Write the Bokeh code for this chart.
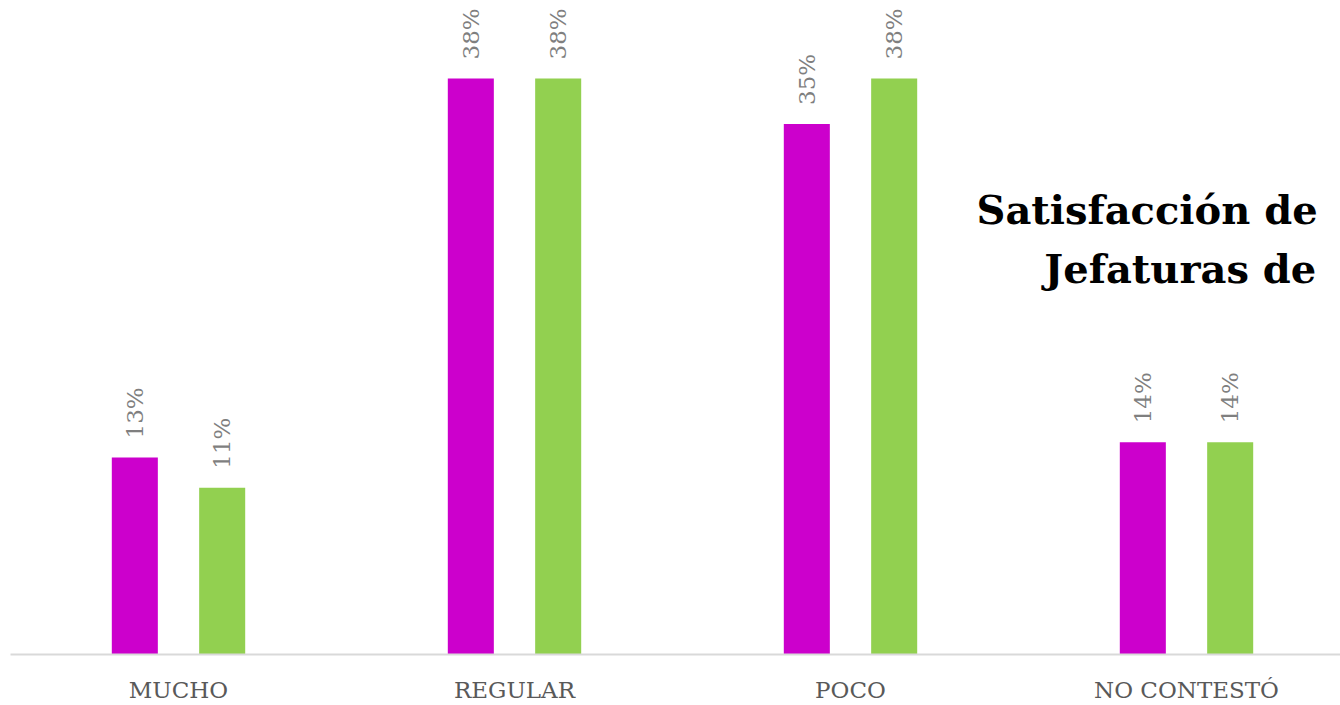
import math
from bokeh.plotting import figure
from bokeh.models import ColumnDataSource, FixedTicker, Range1d, Label
from bokeh.core.properties import value
from bokeh.embed import file_html
from bokeh.resources import INLINE

# ---- data ----
categories = ["MUCHO", "REGULAR", "POCO", "NO CONTESTÓ"]
serie_magenta = [13, 38, 35, 14]
serie_verde = [11, 38, 38, 14]
title_lines = ["Satisfacción de", "Jefaturas de"]

# ---- style ----
MAGENTA = "#CC00CC"
GREEN = "#92D050"
LABEL_GRAY = "#7F7F7F"
AXIS_GRAY = "#595959"
FONT = "DejaVu Serif"

centers = [i + 0.5 for i in range(len(categories))]
offset = 0.13
bar_w = 0.137

src_m = ColumnDataSource(dict(
    x=[c - offset for c in centers], top=serie_magenta,
    label=[f"{v}%" for v in serie_magenta]))
src_g = ColumnDataSource(dict(
    x=[c + offset for c in centers], top=serie_verde,
    label=[f"{v}%" for v in serie_verde]))

p = figure(width=1340, height=705, output_backend="svg", toolbar_location=None,
           x_range=Range1d(0, 1330 / 336), y_range=Range1d(0, 654 / 15.16),
           min_border_left=10, min_border_right=0, min_border_top=0,
           min_border_bottom=51)

p.vbar(x="x", top="top", width=bar_w, bottom=0, source=src_m,
       fill_color=MAGENTA, line_color=None)
p.vbar(x="x", top="top", width=bar_w, bottom=0, source=src_g,
       fill_color=GREEN, line_color=None)

for src in (src_m, src_g):
    p.text(x="x", y="top", text="label", source=src, angle=math.pi / 2,
           text_align="left", text_baseline="middle", y_offset=-19,
           text_font=value(FONT), text_font_size="23px", text_color=LABEL_GRAY)

# title (partially visible, as in the reference)
p.add_layout(Label(x=2.875, y=29.35, text=title_lines[0], text_font=FONT,
                   text_font_size="40px", text_font_style="bold",
                   text_color="#000000", text_baseline="alphabetic"))
p.add_layout(Label(x=3.077, y=25.43, text=title_lines[1], text_font=FONT,
                   text_font_size="40px", text_font_style="bold",
                   text_color="#000000", text_baseline="alphabetic"))

p.xaxis.ticker = FixedTicker(ticks=centers)
p.xaxis.major_label_overrides = {c: n for c, n in zip(centers, categories)}
p.xaxis.major_tick_line_color = None
p.xaxis.minor_tick_line_color = None
p.xaxis.axis_line_color = "#D9D9D9"
p.xaxis.axis_line_width = 2
p.xaxis.major_label_text_font = FONT
p.xaxis.major_label_text_font_size = "23px"
p.xaxis.major_label_text_color = AXIS_GRAY
p.xaxis.major_label_standoff = 16
p.yaxis.visible = False
p.xgrid.visible = False
p.ygrid.visible = False
p.outline_line_color = None

open("out.html", "w").write(file_html(p, INLINE))
